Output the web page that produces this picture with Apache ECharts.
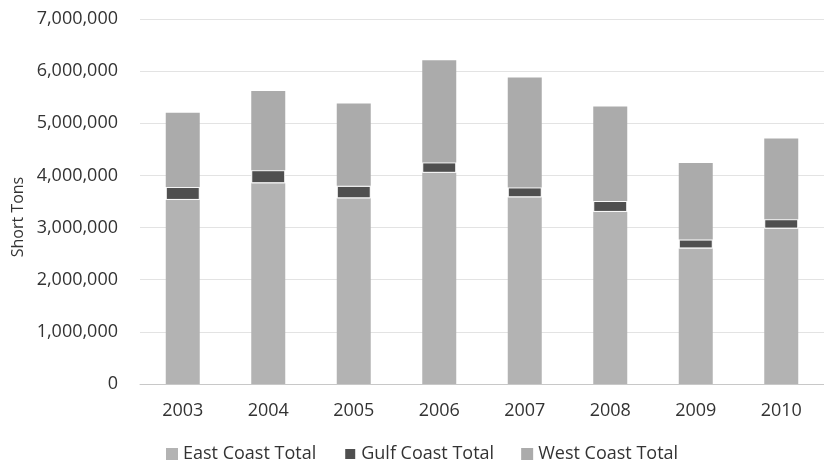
<!DOCTYPE html>
<html>
<head>
<meta charset="utf-8">
<script src="https://cdn.jsdelivr.net/npm/echarts@6/dist/echarts.min.js"></script>
<style>
  html, body { margin: 0; padding: 0; background: #fff; }
  #chart { width: 824px; height: 462px; }
</style>
</head>
<body>
<div id="chart"></div>
<script>
// port tonnage by coast
const years = ['2003', '2004', '2005', '2006', '2007', '2008', '2009', '2010'];
const eastCoast = [3530000, 3850000, 3560000, 4050000, 3580000, 3300000, 2600000, 2980000];
const gulfCoast = [250000, 250000, 240000, 200000, 190000, 210000, 170000, 180000];
const westCoast = [1420000, 1520000, 1580000, 1960000, 2110000, 1810000, 1470000, 1550000];

const FONT = '"Open Sans", sans-serif';
const TEXT = '#333';

const chart = echarts.init(document.getElementById('chart'));

const seg = (name, data, color) => ({
  name,
  type: 'bar',
  stack: 'total',
  data,
  barWidth: 34,
  itemStyle: { color, borderColor: '#fff', borderWidth: name === 'Gulf Coast Total' ? 1 : 0 }
});

chart.setOption({
  animation: false,
  textStyle: { fontFamily: FONT },
  grid: { left: 140, top: 19, width: 696, height: 365 },
  legend: {
    top: 440,
    left: 161,
    itemWidth: 12,
    itemHeight: 12,
    itemGap: 27,
    icon: 'rect',
    textStyle: { color: TEXT, fontSize: 18, fontFamily: FONT },
    data: ['East Coast Total', 'Gulf Coast Total', 'West Coast Total']
  },
  xAxis: {
    type: 'category',
    data: years,
    axisTick: { show: false },
    axisLine: { lineStyle: { color: '#c8c8c8' } },
    axisLabel: { color: TEXT, fontSize: 18, margin: 18 }
  },
  yAxis: {
    type: 'value',
    min: 0,
    max: 7000000,
    interval: 1000000,
    axisLabel: {
      color: TEXT,
      fontSize: 18,
      margin: 22,
      formatter: v => v.toLocaleString('en-US')
    },
    splitLine: { lineStyle: { color: '#e3e3e3' } }
  },
  graphic: [{
    type: 'text',
    x: 18,
    y: 217,
    rotation: Math.PI / 2,
    style: {
      text: 'Short Tons',
      fill: TEXT,
      font: '16px ' + FONT,
      textAlign: 'center',
      textVerticalAlign: 'middle'
    }
  }],
  series: [
    seg('East Coast Total', eastCoast, '#b3b3b3'),
    seg('Gulf Coast Total', gulfCoast, '#4f4f4f'),
    seg('West Coast Total', westCoast, '#ababab')
  ]
});
</script>
</body>
</html>
